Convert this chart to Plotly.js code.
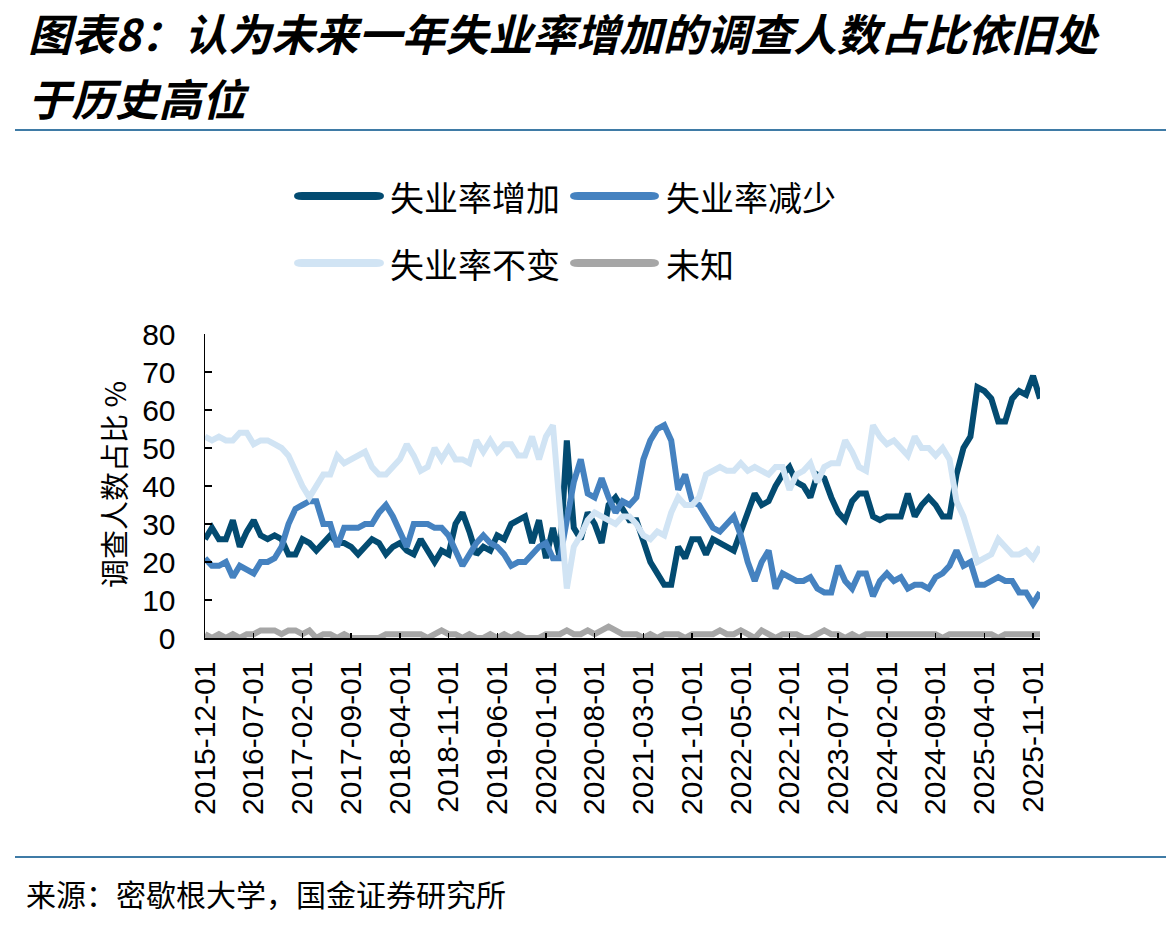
<!DOCTYPE html>
<html>
<head>
<meta charset="utf-8">
<script src="https://cdn.plot.ly/plotly-3.0.1.min.js"></script>
<style>
  html, body { margin: 0; padding: 0; background: #ffffff; }
  #chart { width: 1166px; height: 927px; }
</style>
</head>
<body>
<div id="chart"></div>
<script>
// University of Michigan survey: share of respondents expecting unemployment
// to rise / fall / stay the same over the next year (monthly, 2015-12 .. 2025-12)

const startYear = 2015;
const startMonth = 12;
const monthCount = 121;

const tickLabels = [
  '2015-12-01', '2016-07-01', '2017-02-01', '2017-09-01', '2018-04-01', '2018-11-01',
  '2019-06-01', '2020-01-01', '2020-08-01', '2021-03-01', '2021-10-01', '2022-05-01',
  '2022-12-01', '2023-07-01', '2024-02-01', '2024-09-01', '2025-04-01', '2025-11-01'
];

const seriesNames = ['失业率增加', '失业率减少', '失业率不变', '未知'];

// 失业率增加
const unempUp = [
  26, 29, 26, 26, 31, 24, 28, 31, 27, 26, 27, 26, 22, 22, 26, 25, 23, 25, 27, 25,
  25, 24, 22, 24, 26, 25, 22, 24, 25, 23, 22, 26, 23, 20, 23, 22, 30, 33, 28, 22,
  24, 23, 27, 26, 30, 31, 32, 25, 31, 21, 29, 21, 52, 29, 26, 33, 30, 25, 35, 37,
  34, 31, 31, 26, 20, 17, 14, 14, 24, 21, 26, 26, 22, 26, 25, 24, 23, 28, 33, 38,
  35, 36, 40, 43, 45, 41, 40, 37, 43, 42, 37, 33, 31, 36, 38, 38, 32, 31, 32, 32,
  32, 38, 32, 35, 37, 35, 32, 32, 43, 50, 53, 66, 65, 63, 57, 57, 63, 65, 64, 69,
  63
];

// 失业率减少
const unempDown = [
  21, 19, 19, 20, 16, 19, 18, 17, 20, 20, 21, 24, 30, 34, 35, 36, 36, 30, 30, 24,
  29, 29, 29, 30, 30, 33, 35, 32, 28, 24, 30, 30, 30, 29, 29, 27, 23, 19, 22, 25,
  27, 25, 24, 22, 19, 20, 20, 22, 24, 25, 21, 21, 31, 41, 47, 38, 37, 42, 37, 33,
  36, 35, 37, 47, 52, 55, 56, 52, 39, 43, 36, 35, 32, 29, 28, 30, 32, 27, 20, 15,
  20, 23, 13, 17, 16, 15, 15, 16, 13, 12, 12, 19, 15, 13, 17, 17, 11, 15, 17, 15,
  16, 13, 14, 14, 13, 16, 17, 19, 23, 19, 20, 14, 14, 15, 16, 15, 15, 12, 12, 9,
  12
];

// 失业率不变
const unempSame = [
  53, 52, 53, 52, 52, 54, 54, 51, 52, 52, 51, 50, 48, 44, 40, 37, 40, 43, 43, 48,
  46, 47, 48, 49, 45, 43, 43, 45, 47, 51, 48, 44, 45, 50, 47, 50, 47, 47, 46, 52,
  49, 52, 49, 51, 51, 48, 48, 53, 47, 53, 56, 34, 13, 24, 27, 31, 33, 32, 31, 30,
  32, 32, 30, 27, 26, 28, 27, 33, 37, 35, 35, 37, 43, 44, 45, 44, 44, 46, 44, 45,
  44, 43, 45, 45, 39, 43, 44, 46, 41, 45, 46, 46, 52, 49, 45, 44, 56, 53, 51, 52,
  50, 48, 53, 50, 50, 48, 50, 47, 36, 32, 26, 20, 21, 22, 26, 24, 22, 22, 23, 21,
  24
];

// 未知
const unempUnknown = [
  1, 0, 1, 0, 1, 0, 1, 1, 2, 2, 2, 1, 2, 2, 1, 2, 0, 1, 1, 0,
  1, 0, 0, 0, 0, 0, 1, 1, 1, 1, 1, 1, 0, 1, 2, 1, 1, 0, 1, 0,
  0, 1, 0, 1, 0, 1, 0, 0, 0, 1, 1, 1, 2, 1, 1, 2, 1, 2, 3, 2,
  1, 1, 1, 0, 1, 0, 1, 1, 1, 0, 1, 1, 1, 1, 2, 1, 1, 2, 1, 0,
  2, 1, 0, 1, 1, 1, 0, 0, 1, 2, 1, 1, 0, 1, 0, 1, 1, 1, 1, 1,
  1, 1, 1, 1, 1, 1, 0, 1, 1, 1, 1, 1, 1, 1, 0, 1, 1, 1, 1, 1,
  1
];

const seriesColors = ['#034b71', '#4582c0', '#d1e4f4', '#a6a6a6'];

// monthly category labels
const months = [];
for (let i = 0; i < monthCount; i++) {
  const k = startMonth - 1 + i;
  const y = startYear + Math.floor(k / 12);
  const m = (k % 12) + 1;
  months.push(y + '-' + String(m).padStart(2, '0') + '-01');
}

// plot-area geometry in pixels
const FIG_W = 1166, FIG_H = 927;
const L = 205, T = 334, W = 835, H = 304;
const px = x => (x - L) / W;
const py = y => (T + H - y) / H;

const values = [unempUp, unempDown, unempSame, unempUnknown];
const traces = values.map((v, i) => ({
  type: 'scatter',
  mode: 'lines',
  x: months,
  y: v,
  name: seriesNames[i],
  line: { color: seriesColors[i], width: 6 },
  hoverinfo: 'skip',
  showlegend: false
}));

const cjk = '"Noto Sans CJK SC", "Noto Sans", sans-serif';
const latin = '"Liberation Sans", Arial, sans-serif';

// custom legend: rounded line samples plus labels
function roundedBar(x0, x1, yc, thick) {
  const r = thick / 2;
  const X = v => px(v).toFixed(5), Y = v => py(v).toFixed(5);
  return 'M' + X(x0 + r) + ',' + Y(yc - r) +
    ' L' + X(x1 - r) + ',' + Y(yc - r) +
    ' Q' + X(x1 + r) + ',' + Y(yc - r) + ' ' + X(x1 + r) + ',' + Y(yc) +
    ' Q' + X(x1 + r) + ',' + Y(yc + r) + ' ' + X(x1 - r) + ',' + Y(yc + r) +
    ' L' + X(x0 + r) + ',' + Y(yc + r) +
    ' Q' + X(x0 - r) + ',' + Y(yc + r) + ' ' + X(x0 - r) + ',' + Y(yc) +
    ' Q' + X(x0 - r) + ',' + Y(yc - r) + ' ' + X(x0 + r) + ',' + Y(yc - r) + ' Z';
}

const legendSlots = [
  { x0: 298, x1: 380, tx: 388, y: 196 },
  { x0: 574, x1: 655, tx: 664, y: 196 },
  { x0: 298, x1: 380, tx: 388, y: 263 },
  { x0: 574, x1: 655, tx: 664, y: 263 }
];

const shapes = [];
const annotations = [];

legendSlots.forEach((s, i) => {
  shapes.push({
    type: 'path', xref: 'paper', yref: 'paper',
    path: roundedBar(s.x0, s.x1, s.y, 8),
    fillcolor: seriesColors[i], line: { width: 0 }
  });
  annotations.push({
    xref: 'paper', yref: 'paper', x: px(s.tx), y: py(s.y),
    xanchor: 'left', yanchor: 'middle', showarrow: false,
    text: seriesNames[i], font: { family: cjk, size: 34, color: '#000000' }
  });
});

// header / footer rules
shapes.push({
  type: 'line', xref: 'paper', yref: 'paper',
  x0: px(15), x1: px(FIG_W), y0: py(130), y1: py(130),
  line: { color: '#3f7ba6', width: 2 }
});
shapes.push({
  type: 'line', xref: 'paper', yref: 'paper',
  x0: px(15), x1: px(FIG_W), y0: py(857), y1: py(857),
  line: { color: '#3f7ba6', width: 2 }
});

// title (two lines)
annotations.push({
  xref: 'paper', yref: 'paper', x: px(26), y: py(32),
  xanchor: 'left', yanchor: 'middle', showarrow: false,
  text: '<b><i>图表8：认为未来一年失业率增加的调查人数占比依旧处</i></b>',
  font: { family: cjk, size: 43.5, color: '#000000' }
});
annotations.push({
  xref: 'paper', yref: 'paper', x: px(26), y: py(98),
  xanchor: 'left', yanchor: 'middle', showarrow: false,
  text: '<b><i>于历史高位</i></b>',
  font: { family: cjk, size: 43.5, color: '#000000' }
});

// y-axis title
annotations.push({
  xref: 'paper', yref: 'paper', x: px(113), y: py(485),
  xanchor: 'center', yanchor: 'middle', showarrow: false, textangle: -90,
  text: '调查人数占比 %', font: { family: cjk, size: 29, color: '#000000' }
});

// source note
annotations.push({
  xref: 'paper', yref: 'paper', x: px(24), y: py(893),
  xanchor: 'left', yanchor: 'middle', showarrow: false,
  text: '来源：密歇根大学，国金证券研究所',
  font: { family: cjk, size: 30, color: '#000000' }
});

const layout = {
  width: FIG_W,
  height: FIG_H,
  margin: { l: L, r: FIG_W - L - W, t: T, b: FIG_H - T - H, pad: 0 },
  paper_bgcolor: '#ffffff',
  plot_bgcolor: '#ffffff',
  showlegend: false,
  xaxis: {
    type: 'category',
    range: [0, monthCount - 1],
    tickmode: 'array',
    tickvals: tickLabels,
    ticktext: tickLabels,
    tickangle: -90,
    ticks: 'inside',
    ticklen: 5,
    tickwidth: 1.5,
    tickcolor: '#000000',
    showline: true,
    linecolor: '#000000',
    linewidth: 1.5,
    showgrid: false,
    zeroline: false,
    ticklabelstandoff: 10,
    tickfont: { family: latin, size: 30, color: '#000000' },
    fixedrange: true
  },
  yaxis: {
    range: [0, 80],
    tickmode: 'linear',
    tick0: 0,
    dtick: 10,
    ticks: 'inside',
    ticklen: 7,
    tickwidth: 1.5,
    tickcolor: '#000000',
    showline: true,
    linecolor: '#000000',
    linewidth: 1.5,
    showgrid: false,
    zeroline: false,
    ticklabelstandoff: 22,
    tickfont: { family: latin, size: 30, color: '#000000' },
    fixedrange: true
  },
  shapes: shapes,
  annotations: annotations
};

Plotly.newPlot('chart', traces, layout, { displayModeBar: false, staticPlot: true });
</script>
</body>
</html>
